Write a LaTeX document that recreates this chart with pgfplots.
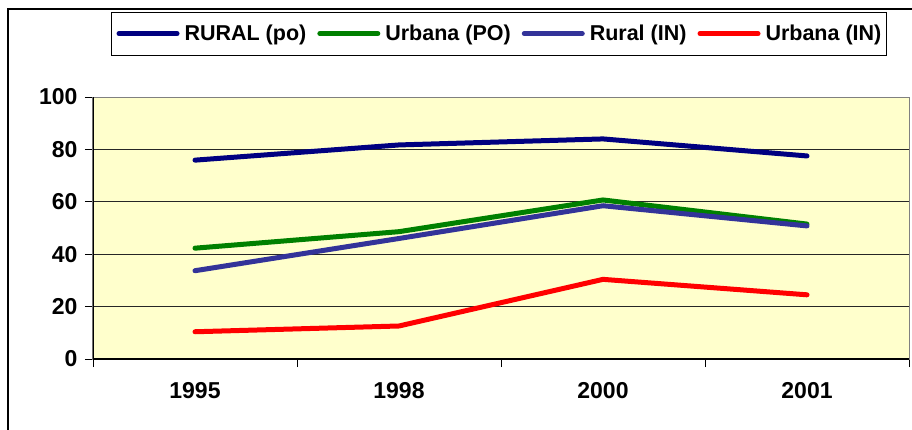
\documentclass[border=0pt]{standalone}
\usepackage{pgfplots}
\pgfplotsset{compat=1.18}
\usepackage{fontspec}
\setmainfont{Liberation Sans}
\definecolor{bgyellow}{HTML}{FFFFCC}
\definecolor{cnavy}{HTML}{000080}
\definecolor{cgreen}{HTML}{008000}
\definecolor{cblue}{HTML}{333399}
\definecolor{cred}{HTML}{FF0000}
\begin{document}
\begin{tikzpicture}[x=1pt,y=1pt]
\clip (-93,-70) rectangle (819,359);
\fill[white] (-93,-70) rectangle (819,359);
\draw[black, line width=2pt] (-85,-120) rectangle (860,350);
\begin{axis}[
  at={(0,0)}, anchor=south west,
  scale only axis, width=816pt, height=262pt,
  xmin=-0.5, xmax=3.5, ymin=0, ymax=100,
  axis background/.style={fill=bgyellow},
  axis line style={draw=gray, line width=1pt},
  xtick={-0.5,0.5,1.5,2.5,3.5}, xticklabels={},
  extra x ticks={0,1,2,3},
  extra x tick labels={1995,1998,2000,2001},
  extra x tick style={major tick length=0pt, grid=none},
  ytick={0,20,40,60,80,100},
  ymajorgrids,
  major grid style={black!85, line width=0.9pt},
  tick style={black, line width=0.8pt},
  tick align=outside,
  major tick length=8pt,
  xtick pos=bottom, ytick pos=left,
  /pgf/number format/assume math mode=true,
  ticklabel style={font=\fontsize{23}{27}\selectfont\bfseries},
  xticklabel style={yshift=-20pt},
  yticklabel style={xshift=-4pt},
  legend columns=4,
  legend style={at={(0.4975,1.242)}, anchor=center, draw=black, line width=0.8pt,
    font=\fontsize{21.5}{25}\selectfont\bfseries, inner xsep=5pt, inner ysep=11pt,
    nodes={inner xsep=0pt, inner ysep=2pt},
    /tikz/every even column/.append style={column sep=11pt},
    /tikz/every odd column/.append style={column sep=5pt}},
  legend image code/.code={\draw[#1, line width=5pt] (0pt,0pt) -- (58pt,0pt);},
  every axis plot/.append style={line width=5pt, line join=round, line cap=round},
]
\addplot[cnavy] coordinates {(0,75.9) (1,81.7) (2,84.0) (3,77.5)};
\addlegendentry{RURAL (po)}
\addplot[cgreen] coordinates {(0,42.3) (1,48.6) (2,60.7) (3,51.5)};
\addlegendentry{Urbana (PO)}
\addplot[cblue] coordinates {(0,33.7) (1,46.0) (2,58.5) (3,50.8)};
\addlegendentry{Rural (IN)}
\addplot[cred] coordinates {(0,10.4) (1,12.6) (2,30.4) (3,24.5)};
\addlegendentry{Urbana (IN)}
\draw[black, line width=1.2pt] (rel axis cs:0,0) -- (rel axis cs:0,1);
\draw[black, line width=1.2pt] (rel axis cs:0,0) -- (rel axis cs:1,0);
\end{axis}
\end{tikzpicture}
\end{document}
